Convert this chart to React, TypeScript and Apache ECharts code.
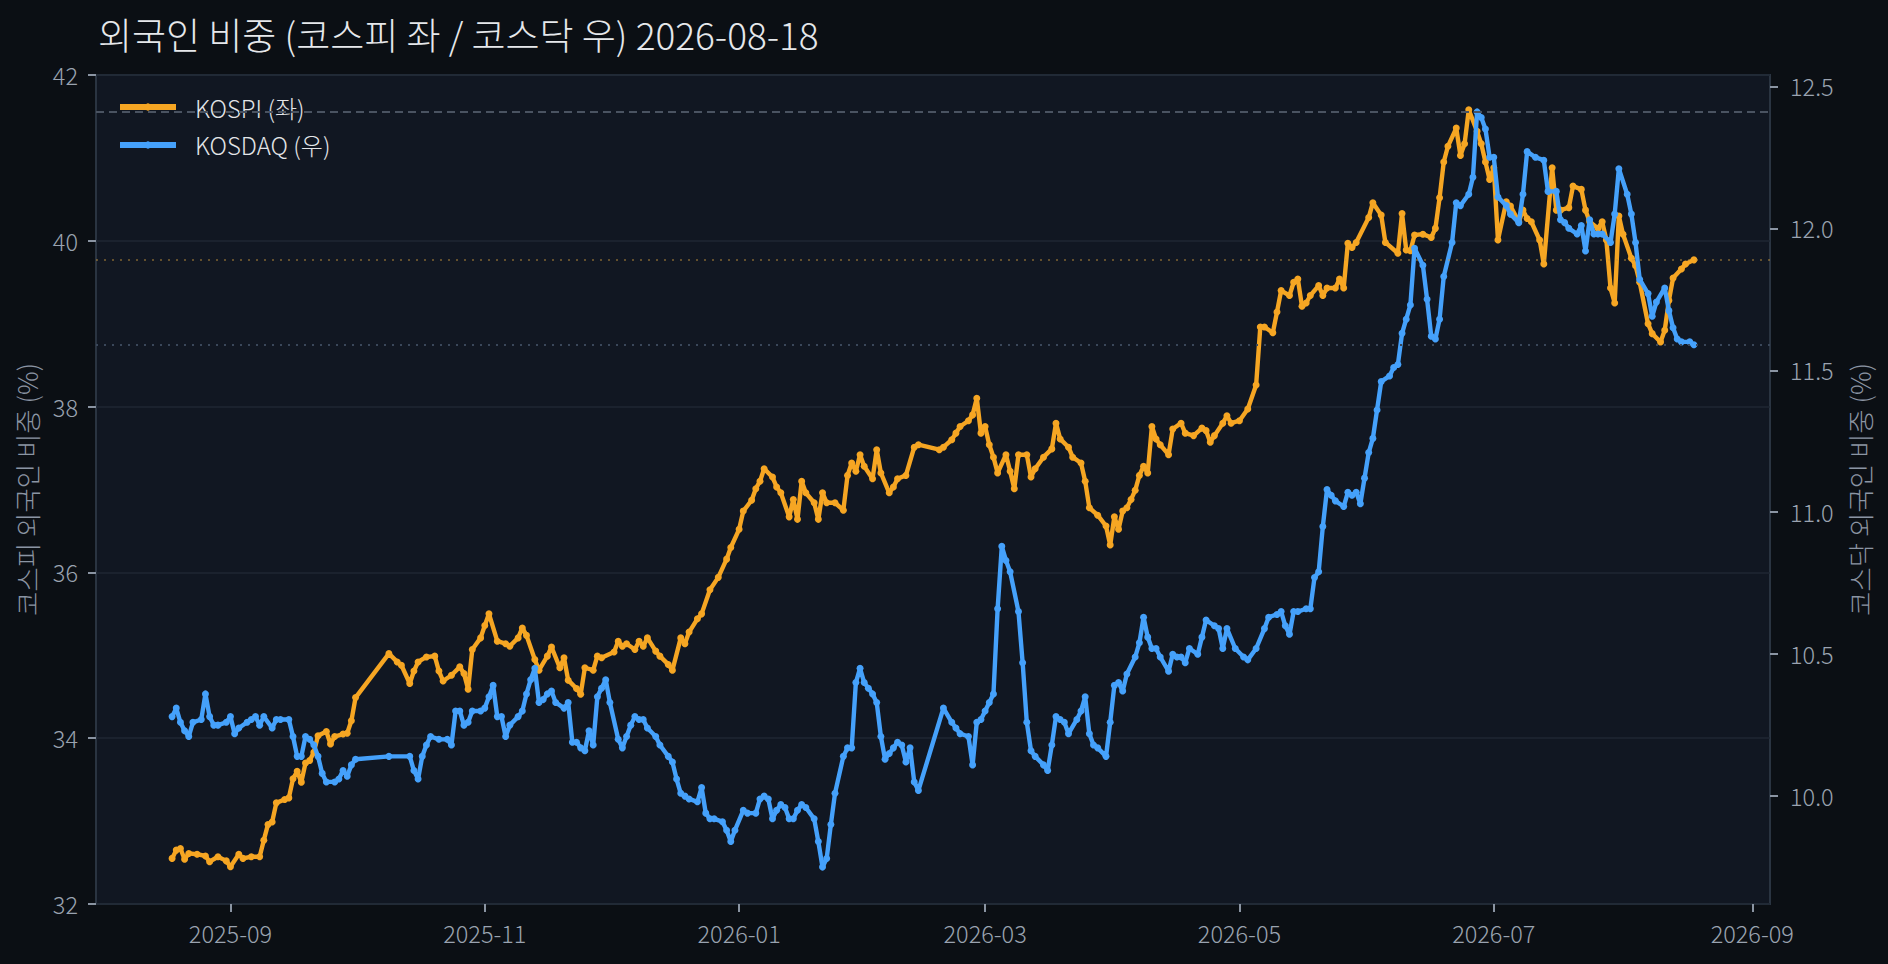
import React, { useEffect, useRef } from "react";
import * as echarts from "echarts";

const TITLE = "외국인 비중 (코스피 좌 / 코스닥 우) 2026-08-18";
const LEFT_NAME = "코스피 외국인 비중 (%)";
const RIGHT_NAME = "코스닥 외국인 비중 (%)";
const SERIES_NAMES = ["KOSPI (좌)", "KOSDAQ (우)"];

const xTickLabels = ["2025-09", "2025-11", "2026-01", "2026-03", "2026-05", "2026-07", "2026-09"];
const leftTicks = [32, 34, 36, 38, 40, 42];
const rightTicks = [10.0, 10.5, 11.0, 11.5, 12.0, 12.5];

const kospiDates = [
  "2025-08-18","2025-08-19","2025-08-20","2025-08-21","2025-08-22","2025-08-24","2025-08-26","2025-08-27","2025-08-29","2025-08-31",
  "2025-09-01","2025-09-03","2025-09-04","2025-09-06","2025-09-08","2025-09-09","2025-09-10","2025-09-11","2025-09-12","2025-09-14",
  "2025-09-15","2025-09-16","2025-09-17","2025-09-18","2025-09-19","2025-09-20","2025-09-21","2025-09-22","2025-09-24","2025-09-25",
  "2025-09-26","2025-09-28","2025-09-29","2025-09-30","2025-10-01","2025-10-09","2025-10-11","2025-10-12","2025-10-14","2025-10-15",
  "2025-10-16","2025-10-18","2025-10-20","2025-10-21","2025-10-22","2025-10-24","2025-10-26","2025-10-27","2025-10-28","2025-10-29",
  "2025-10-31","2025-11-01","2025-11-02","2025-11-04","2025-11-06","2025-11-07","2025-11-09","2025-11-10","2025-11-11","2025-11-13",
  "2025-11-14","2025-11-16","2025-11-17","2025-11-19","2025-11-20","2025-11-21","2025-11-23","2025-11-24","2025-11-25","2025-11-27",
  "2025-11-28","2025-11-29","2025-12-02","2025-12-03","2025-12-04","2025-12-05","2025-12-07","2025-12-08","2025-12-09","2025-12-10",
  "2025-12-12","2025-12-13","2025-12-15","2025-12-16","2025-12-18","2025-12-19","2025-12-20","2025-12-22","2025-12-23","2025-12-25",
  "2025-12-27","2025-12-29","2025-12-30","2026-01-01","2026-01-02","2026-01-04","2026-01-05","2026-01-06","2026-01-07","2026-01-09",
  "2026-01-10","2026-01-11","2026-01-13","2026-01-14","2026-01-15","2026-01-16","2026-01-17","2026-01-19","2026-01-20","2026-01-21",
  "2026-01-22","2026-01-24","2026-01-26","2026-01-27","2026-01-28","2026-01-29","2026-01-30","2026-01-31","2026-02-02","2026-02-03",
  "2026-02-04","2026-02-06","2026-02-07","2026-02-08","2026-02-10","2026-02-12","2026-02-13","2026-02-18","2026-02-19","2026-02-21",
  "2026-02-22","2026-02-23","2026-02-25","2026-02-26","2026-02-27","2026-02-28","2026-03-01","2026-03-02","2026-03-03","2026-03-04",
  "2026-03-06","2026-03-07","2026-03-08","2026-03-09","2026-03-11","2026-03-12","2026-03-13","2026-03-15","2026-03-17","2026-03-18",
  "2026-03-19","2026-03-21","2026-03-22","2026-03-24","2026-03-25","2026-03-26","2026-03-28","2026-03-30","2026-03-31","2026-04-01",
  "2026-04-02","2026-04-03","2026-04-04","2026-04-05","2026-04-06","2026-04-07","2026-04-08","2026-04-09","2026-04-10","2026-04-11",
  "2026-04-12","2026-04-14","2026-04-15","2026-04-17","2026-04-18","2026-04-20","2026-04-22","2026-04-23","2026-04-24","2026-04-25",
  "2026-04-27","2026-04-28","2026-04-29","2026-05-01","2026-05-03","2026-05-05","2026-05-06","2026-05-07","2026-05-09","2026-05-10",
  "2026-05-11","2026-05-13","2026-05-14","2026-05-15","2026-05-16","2026-05-17","2026-05-18","2026-05-20","2026-05-21","2026-05-22",
  "2026-05-24","2026-05-25","2026-05-26","2026-05-27","2026-05-28","2026-05-29","2026-06-01","2026-06-02","2026-06-04","2026-06-05",
  "2026-06-08","2026-06-09","2026-06-10","2026-06-11","2026-06-12","2026-06-14","2026-06-16","2026-06-17","2026-06-18","2026-06-19",
  "2026-06-20","2026-06-22","2026-06-23","2026-06-24","2026-06-25","2026-06-27","2026-06-28","2026-06-29","2026-06-30","2026-07-01",
  "2026-07-02","2026-07-04","2026-07-05","2026-07-07","2026-07-08","2026-07-09","2026-07-10","2026-07-12","2026-07-13","2026-07-15",
  "2026-07-16","2026-07-17","2026-07-19","2026-07-20","2026-07-22","2026-07-23","2026-07-24","2026-07-26","2026-07-27","2026-07-28",
  "2026-07-29","2026-07-30","2026-07-31","2026-08-01","2026-08-03","2026-08-04","2026-08-05","2026-08-07","2026-08-08","2026-08-10",
  "2026-08-11","2026-08-12","2026-08-13","2026-08-15","2026-08-16","2026-08-18"
];
const kospiValues = [
  32.55,32.65,32.67,32.54,32.61,32.60,32.58,32.51,32.57,32.52,
  32.45,32.60,32.55,32.57,32.57,32.77,32.96,32.99,33.22,33.26,
  33.28,33.51,33.60,33.47,33.70,33.73,33.83,34.03,34.08,33.93,
  34.02,34.05,34.06,34.21,34.49,35.02,34.92,34.88,34.66,34.81,
  34.92,34.98,34.99,34.81,34.69,34.76,34.86,34.78,34.59,35.07,
  35.21,35.36,35.50,35.17,35.14,35.11,35.21,35.33,35.24,34.95,
  34.82,34.99,35.10,34.85,34.97,34.70,34.60,34.53,34.85,34.82,
  34.99,34.97,35.04,35.17,35.11,35.14,35.07,35.17,35.11,35.21,
  35.05,34.99,34.89,34.82,35.21,35.14,35.28,35.44,35.50,35.79,
  35.94,36.16,36.30,36.52,36.74,36.87,37.01,37.10,37.25,37.15,
  37.03,36.96,36.67,36.88,36.64,37.10,36.96,36.84,36.64,36.96,
  36.84,36.84,36.75,37.17,37.32,37.22,37.42,37.28,37.13,37.48,
  37.20,36.96,37.03,37.13,37.17,37.51,37.54,37.48,37.51,37.60,
  37.68,37.76,37.83,37.90,38.10,37.68,37.76,37.54,37.39,37.20,
  37.42,37.22,37.01,37.42,37.42,37.15,37.25,37.39,37.49,37.80,
  37.61,37.51,37.39,37.32,37.10,36.78,36.69,36.56,36.33,36.67,
  36.52,36.74,36.78,36.88,36.99,37.17,37.28,37.20,37.76,37.61,
  37.54,37.42,37.73,37.80,37.68,37.65,37.74,37.71,37.57,37.65,
  37.80,37.89,37.80,37.83,37.97,38.26,38.96,38.96,38.89,39.14,
  39.40,39.34,39.50,39.54,39.21,39.25,39.34,39.46,39.34,39.43,
  39.43,39.54,39.43,39.97,39.92,39.98,40.28,40.46,40.31,39.98,
  39.85,40.33,39.89,39.88,40.07,40.08,40.04,40.15,40.52,40.95,
  41.14,41.36,41.03,41.17,41.58,41.32,41.17,40.95,40.74,40.88,
  40.01,40.47,40.42,40.23,40.37,40.27,40.23,40.01,39.72,40.88,
  40.37,40.37,40.40,40.66,40.62,40.37,40.23,40.15,40.23,40.01,
  39.43,39.25,40.30,40.08,39.79,39.70,39.50,39.00,38.88,38.78,
  38.92,39.28,39.55,39.66,39.72,39.77
];

const kosdaqDates = [
  "2025-08-18","2025-08-19","2025-08-20","2025-08-21","2025-08-22","2025-08-23","2025-08-25","2025-08-26","2025-08-27","2025-08-28",
  "2025-08-29","2025-08-31","2025-09-01","2025-09-02","2025-09-03","2025-09-05","2025-09-06","2025-09-07","2025-09-08","2025-09-09",
  "2025-09-11","2025-09-12","2025-09-13","2025-09-15","2025-09-16","2025-09-17","2025-09-18","2025-09-19","2025-09-20","2025-09-21",
  "2025-09-22","2025-09-23","2025-09-24","2025-09-26","2025-09-27","2025-09-28","2025-09-29","2025-09-30","2025-10-01","2025-10-09",
  "2025-10-14","2025-10-15","2025-10-16","2025-10-17","2025-10-18","2025-10-19","2025-10-21","2025-10-23","2025-10-24","2025-10-25",
  "2025-10-26","2025-10-27","2025-10-28","2025-10-29","2025-10-31","2025-11-01","2025-11-02","2025-11-03","2025-11-04","2025-11-05",
  "2025-11-06","2025-11-07","2025-11-09","2025-11-10","2025-11-11","2025-11-12","2025-11-13","2025-11-14","2025-11-15","2025-11-16",
  "2025-11-17","2025-11-18","2025-11-20","2025-11-21","2025-11-22","2025-11-23","2025-11-24","2025-11-25","2025-11-26","2025-11-27",
  "2025-11-28","2025-11-29","2025-11-30","2025-12-01","2025-12-03","2025-12-04","2025-12-05","2025-12-06","2025-12-07","2025-12-08",
  "2025-12-09","2025-12-10","2025-12-12","2025-12-13","2025-12-15","2025-12-16","2025-12-17","2025-12-18","2025-12-19","2025-12-20",
  "2025-12-22","2025-12-23","2025-12-24","2025-12-25","2025-12-26","2025-12-28","2025-12-29","2025-12-30","2025-12-31","2026-01-02",
  "2026-01-03","2026-01-05","2026-01-06","2026-01-07","2026-01-08","2026-01-09","2026-01-10","2026-01-11","2026-01-12","2026-01-13",
  "2026-01-14","2026-01-15","2026-01-16","2026-01-17","2026-01-19","2026-01-20","2026-01-21","2026-01-22","2026-01-23","2026-01-24",
  "2026-01-26","2026-01-27","2026-01-28","2026-01-29","2026-01-30","2026-01-31","2026-02-01","2026-02-02","2026-02-03","2026-02-04",
  "2026-02-05","2026-02-06","2026-02-07","2026-02-08","2026-02-09","2026-02-10","2026-02-11","2026-02-12","2026-02-13","2026-02-19",
  "2026-02-21","2026-02-22","2026-02-23","2026-02-25","2026-02-26","2026-02-27","2026-02-28","2026-03-01","2026-03-02","2026-03-03",
  "2026-03-04","2026-03-05","2026-03-06","2026-03-07","2026-03-09","2026-03-10","2026-03-11","2026-03-12","2026-03-13","2026-03-15",
  "2026-03-16","2026-03-17","2026-03-18","2026-03-19","2026-03-20","2026-03-21","2026-03-23","2026-03-24","2026-03-25","2026-03-26",
  "2026-03-27","2026-03-28","2026-03-30","2026-03-31","2026-04-01","2026-04-02","2026-04-03","2026-04-04","2026-04-06","2026-04-07",
  "2026-04-08","2026-04-09","2026-04-10","2026-04-11","2026-04-12","2026-04-14","2026-04-15","2026-04-16","2026-04-17","2026-04-18",
  "2026-04-19","2026-04-21","2026-04-22","2026-04-23","2026-04-25","2026-04-26","2026-04-27","2026-04-28","2026-04-30","2026-05-02",
  "2026-05-03","2026-05-05","2026-05-07","2026-05-08","2026-05-10","2026-05-11","2026-05-12","2026-05-13","2026-05-14","2026-05-15",
  "2026-05-17","2026-05-18","2026-05-19","2026-05-20","2026-05-21","2026-05-22","2026-05-23","2026-05-24","2026-05-26","2026-05-27",
  "2026-05-28","2026-05-29","2026-05-30","2026-05-31","2026-06-01","2026-06-02","2026-06-03","2026-06-04","2026-06-06","2026-06-07",
  "2026-06-08","2026-06-09","2026-06-10","2026-06-11","2026-06-12","2026-06-14","2026-06-15","2026-06-16","2026-06-17","2026-06-18",
  "2026-06-19","2026-06-21","2026-06-22","2026-06-23","2026-06-25","2026-06-26","2026-06-27","2026-06-28","2026-06-29","2026-06-30",
  "2026-07-01","2026-07-02","2026-07-04","2026-07-05","2026-07-07","2026-07-08","2026-07-09","2026-07-11","2026-07-13","2026-07-14",
  "2026-07-16","2026-07-17","2026-07-18","2026-07-19","2026-07-21","2026-07-22","2026-07-23","2026-07-24","2026-07-25","2026-07-26",
  "2026-07-27","2026-07-29","2026-07-30","2026-07-31","2026-08-02","2026-08-03","2026-08-04","2026-08-05","2026-08-07","2026-08-08",
  "2026-08-09","2026-08-11","2026-08-12","2026-08-13","2026-08-14","2026-08-15","2026-08-17","2026-08-18"
];
const kosdaqValues = [
  10.28,10.31,10.26,10.23,10.21,10.26,10.27,10.36,10.28,10.25,
  10.25,10.26,10.28,10.22,10.24,10.26,10.27,10.28,10.25,10.28,
  10.24,10.27,10.27,10.27,10.21,10.14,10.14,10.21,10.20,10.18,
  10.14,10.08,10.05,10.05,10.06,10.09,10.07,10.11,10.13,10.14,
  10.14,10.09,10.06,10.14,10.18,10.21,10.20,10.20,10.18,10.30,
  10.30,10.25,10.26,10.30,10.30,10.31,10.35,10.39,10.28,10.28,
  10.21,10.25,10.28,10.30,10.36,10.41,10.45,10.33,10.34,10.36,
  10.37,10.33,10.31,10.33,10.19,10.19,10.17,10.16,10.23,10.18,
  10.35,10.38,10.41,10.33,10.20,10.17,10.21,10.25,10.28,10.27,
  10.27,10.24,10.21,10.18,10.14,10.12,10.06,10.01,10.00,9.99,
  9.98,10.03,9.94,9.92,9.92,9.91,9.88,9.84,9.88,9.95,
  9.94,9.94,9.99,10.00,9.99,9.92,9.95,9.97,9.96,9.92,
  9.92,9.95,9.97,9.96,9.92,9.84,9.75,9.78,9.90,10.01,
  10.14,10.17,10.17,10.40,10.45,10.40,10.38,10.36,10.33,10.21,
  10.13,10.15,10.17,10.19,10.18,10.12,10.17,10.05,10.02,10.31,
  10.26,10.24,10.22,10.21,10.11,10.26,10.27,10.30,10.33,10.36,
  10.66,10.88,10.83,10.79,10.65,10.47,10.26,10.16,10.14,10.11,
  10.09,10.18,10.28,10.27,10.26,10.22,10.27,10.30,10.35,10.22,
  10.18,10.17,10.14,10.26,10.39,10.40,10.37,10.43,10.49,10.54,
  10.63,10.56,10.52,10.52,10.49,10.44,10.50,10.49,10.49,10.47,
  10.52,10.50,10.56,10.62,10.60,10.59,10.52,10.59,10.52,10.49,
  10.48,10.52,10.59,10.63,10.64,10.65,10.60,10.57,10.65,10.65,
  10.66,10.66,10.77,10.79,10.95,11.08,11.06,11.04,11.02,11.07,
  11.06,11.07,11.03,11.12,11.21,11.26,11.36,11.46,11.48,11.51,
  11.52,11.63,11.68,11.73,11.93,11.87,11.75,11.62,11.61,11.68,
  11.83,11.95,12.09,12.08,12.12,12.18,12.41,12.39,12.35,12.25,
  12.25,12.11,12.08,12.05,12.02,12.12,12.27,12.25,12.24,12.13,
  12.13,12.03,12.02,12.00,11.98,12.01,11.92,12.03,11.98,11.98,
  11.98,11.95,12.05,12.21,12.12,12.05,11.95,11.82,11.77,11.69,
  11.74,11.79,11.71,11.65,11.61,11.60,11.60,11.59
];

const BG = "#0b0f14";
const PLOT_BG = "#111722";
const ORANGE = "#f6a623";
const BLUE = "#45a1fb";
const FONT = "'Noto Sans CJK KR Light', 'Noto Sans CJK KR', 'Noto Sans', sans-serif";

function parseDay(s: string): number {
  const [y, m, d] = s.split("-").map(Number);
  return new Date(y, m - 1, d || 1).getTime();
}

function fmtMonth(v: number): string {
  const d = new Date(v);
  const m = d.getMonth() + 1;
  return d.getFullYear() + "-" + (m < 10 ? "0" + m : "" + m);
}

export default function App() {
  const ref = useRef<HTMLDivElement>(null);

  useEffect(() => {
    document.body.style.margin = "0";
    document.body.style.background = BG;
    if (!ref.current) return;
    const chart = echarts.init(ref.current, null, { renderer: "svg" });

    const kospiData = kospiDates.map((d, i) => [parseDay(d), kospiValues[i]]);
    const kosdaqData = kosdaqDates.map((d, i) => [parseDay(d), kosdaqValues[i]]);
    const kospiLast = kospiValues[kospiValues.length - 1];
    const kosdaqLast = kosdaqValues[kosdaqValues.length - 1];
    const kosdaqMax = Math.max(...kosdaqValues);
    const xTicks = xTickLabels.map(parseDay);
    const day = 86400000;
    const first = parseDay(kospiDates[0]);
    const last = parseDay(kospiDates[kospiDates.length - 1]);
    const pad = (last - first) * 0.05;

    const axisLabelStyle = { color: "#9aa3b0", fontSize: 23.5, fontWeight: 300, fontFamily: FONT };
    const tickStyle = { color: "#8a94a2", width: 2 };
    const nameStyle = { color: "#8b95a3", fontSize: 26.5, fontWeight: 300, fontFamily: FONT };

    chart.setOption({
      animation: false,
      backgroundColor: BG,
      title: {
        text: TITLE,
        left: 93,
        top: 10,
        textStyle: { color: "#e6e8eb", fontSize: 37, fontWeight: 300, fontFamily: FONT },
      },
      legend: {
        data: SERIES_NAMES,
        orient: "vertical",
        left: 117,
        top: 95,
        itemWidth: 56,
        itemHeight: 9,
        itemGap: 14,
        padding: 0,
        lineStyle: { width: 6 },
        textStyle: { color: "#e3e5e8", fontSize: 24, fontWeight: 300, fontFamily: FONT, padding: [0, 0, 0, 14] },
      },
      grid: {
        left: 96,
        right: 118,
        top: 75,
        bottom: 60,
        show: true,
        backgroundColor: PLOT_BG,
        borderColor: "#2a3441",
        borderWidth: 2,
      },
      xAxis: {
        type: "value",
        min: first - pad,
        max: last + pad,
        axisLine: { show: false },
        axisTick: { show: true, length: 8, lineStyle: tickStyle, customValues: xTicks },
        axisLabel: { ...axisLabelStyle, margin: 17, customValues: xTicks, formatter: (v: number) => fmtMonth(v + day / 4) },
        splitLine: { show: false },
      },
      yAxis: [
        {
          type: "value",
          position: "left",
          min: 32,
          max: 42,
          interval: 2,
          axisLine: { show: false },
          axisTick: { show: true, length: 8, lineStyle: tickStyle, customValues: leftTicks },
          axisLabel: { ...axisLabelStyle, margin: 18, customValues: leftTicks },
          splitLine: { show: true, lineStyle: { color: "#1f2733", width: 1.5 } },
          name: LEFT_NAME,
          nameLocation: "middle",
          nameRotate: 90,
          nameGap: 56,
          nameTextStyle: nameStyle,
        },
        {
          type: "value",
          position: "right",
          min: 9.62,
          max: 12.54,
          axisLine: { show: false },
          axisTick: { show: true, length: 8, lineStyle: tickStyle, customValues: rightTicks },
          axisLabel: {
            ...axisLabelStyle,
            margin: 20,
            customValues: rightTicks,
            formatter: (v: number) => v.toFixed(1),
          },
          splitLine: { show: false },
          name: RIGHT_NAME,
          nameLocation: "middle",
          nameRotate: 90,
          nameGap: 76,
          nameTextStyle: nameStyle,
        },
      ],
      series: [
        {
          name: SERIES_NAMES[0],
          type: "line",
          yAxisIndex: 0,
          data: kospiData,
          symbol: "circle",
          symbolSize: 7,
          showSymbol: true,
          lineStyle: { color: ORANGE, width: 4.4 },
          itemStyle: { color: ORANGE },
          z: 3,
          markLine: {
            silent: true,
            symbol: ["none", "none"],
            label: { show: false },
            data: [{ yAxis: kospiLast, lineStyle: { color: "rgba(200,150,60,0.45)", type: [2, 6], width: 2 } }],
          },
        },
        {
          name: SERIES_NAMES[1],
          type: "line",
          yAxisIndex: 1,
          data: kosdaqData,
          symbol: "circle",
          symbolSize: 7,
          showSymbol: true,
          lineStyle: { color: BLUE, width: 4.4 },
          itemStyle: { color: BLUE },
          z: 4,
          markLine: {
            silent: true,
            symbol: ["none", "none"],
            label: { show: false },
            data: [
              { yAxis: kosdaqMax, lineStyle: { color: "#4a5361", type: [8, 5], width: 2.2 } },
              { yAxis: kosdaqLast, lineStyle: { color: "#3a475a", type: [2, 6], width: 2 } },
            ],
          },
        },
      ],
    });

    return () => chart.dispose();
  }, []);

  return (
    <div
      ref={ref}
      style={{ position: "fixed", left: 0, top: 0, width: 1888, height: 964, background: BG }}
    />
  );
}
